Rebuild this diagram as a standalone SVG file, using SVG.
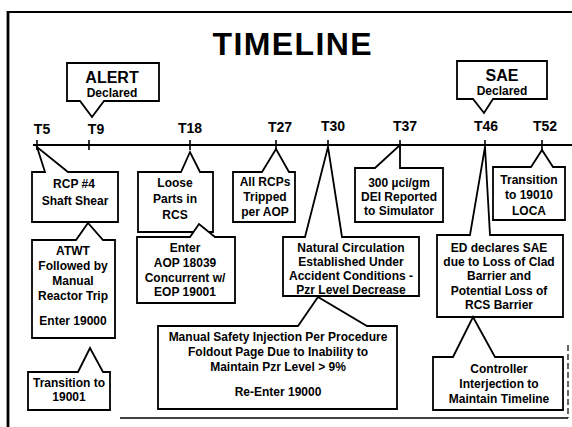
<svg xmlns="http://www.w3.org/2000/svg" width="572" height="427" viewBox="0 0 572 427">
<style>
.frame{stroke:#000;fill:none}
.co{fill:#fff;stroke:#000;stroke-width:1.8;stroke-linejoin:miter}
.t{font-family:"Liberation Sans",Arial,sans-serif;font-weight:bold;font-size:12px;fill:#000;text-anchor:middle}
.tl{font-family:"Liberation Sans",Arial,sans-serif;font-weight:bold;font-size:14px;fill:#000;text-anchor:middle}
.big{font-family:"Liberation Sans",Arial,sans-serif;font-weight:bold;font-size:16px;fill:#000;text-anchor:middle}
.axis{stroke:#000;stroke-width:2;fill:none}
.tick{stroke:#000;stroke-width:1.6}
</style>
<rect width="572" height="427" fill="#fff"/>
<g id="frame">
<line class="frame" x1="8" y1="11" x2="8" y2="427" stroke-width="2.8"/>
<line class="frame" x1="7" y1="12" x2="572" y2="12" stroke-width="2.2"/>
<line class="frame" x1="120" y1="418" x2="568" y2="418" stroke="#444" stroke-width="1.5"/>
<line class="frame" x1="568" y1="345" x2="568" y2="418" stroke="#666" stroke-width="1.2" stroke-dasharray="6 3"/>
</g>
<text x="292" y="55" font-family="'Liberation Sans',Arial,sans-serif" font-weight="bold" font-size="32" text-anchor="middle" textLength="159" lengthAdjust="spacing">TIMELINE</text>
<g id="timeline">
<line class="axis" x1="33" y1="145" x2="572" y2="145"/>
<line class="tick" x1="37" y1="140" x2="37" y2="150"/>
<line class="tick" x1="89" y1="140" x2="89" y2="150"/>
<line class="tick" x1="190" y1="140" x2="190" y2="150"/>
<line class="tick" x1="276" y1="140" x2="276" y2="150"/>
<line class="tick" x1="328" y1="140" x2="328" y2="150"/>
<line class="tick" x1="400" y1="140" x2="400" y2="150"/>
<line class="tick" x1="485" y1="140" x2="485" y2="150"/>
<line class="tick" x1="542" y1="140" x2="542" y2="150"/>
<text class="tl" x="42" y="134">T5</text>
<text class="tl" x="96" y="134">T9</text>
<text class="tl" x="190" y="133">T18</text>
<text class="tl" x="280" y="132">T27</text>
<text class="tl" x="333" y="131">T30</text>
<text class="tl" x="405" y="131">T37</text>
<text class="tl" x="486" y="131">T46</text>
<text class="tl" x="545" y="131">T52</text>
</g>
<g id="connectors"></g>
<g id="alert">
<path class="co" d="M67,63 H159 V101 H104 L92,117 L80,101 H67 Z"/>
<text class="big" x="112" y="83">ALERT</text>
<text class="t" x="112" y="97">Declared</text>
</g>
<g id="sae">
<path class="co" d="M457,61 H547 V99 H493 L484,113 L473,99 H457 Z"/>
<text class="big" x="502" y="81">SAE</text>
<text class="t" x="502" y="95">Declared</text>
</g>
<g id="rcp4">
<path class="co" d="M32,172 H45 L37,147 L68,172 H118 V222 H32 Z"/>
<text class="t" x="74" y="188">RCP #4</text>
<text class="t" x="75" y="205">Shaft Shear</text>
</g>
<g id="loose">
<path class="co" d="M138,172 H181 L190,152 L200,172 H213 V232 H138 Z"/>
<text class="t" x="175" y="187">Loose</text>
<text class="t" x="175" y="203">Parts in</text>
<text class="t" x="175" y="219">RCS</text>
</g>
<g id="allrcps">
<path class="co" d="M233,172 H262 L276,149 L289,172 H295 V222 H233 Z"/>
<text class="t" x="265" y="186">All RCPs</text>
<text class="t" x="265" y="201">Tripped</text>
<text class="t" x="265" y="216">per AOP</text>
</g>
<g id="dei">
<path class="co" d="M355,168 H375 L400,145 V168 H443 V222 H355 Z"/>
<text class="t" x="399" y="187">300 µci/gm</text>
<text class="t" x="399" y="201">DEI Reported</text>
<text class="t" x="399" y="215">to Simulator</text>
</g>
<g id="loca">
<path class="co" d="M493,167 H531 L542,150 L553,167 H565 V220 H493 Z"/>
<text class="t" x="529" y="184">Transition</text>
<text class="t" x="529" y="199">to 19010</text>
<text class="t" x="529" y="215">LOCA</text>
</g>
<g id="natcirc">
<path class="co" d="M283,237 H305 L328,147 L342,237 H419 V296 H283 Z"/>
<text class="t" x="351" y="252">Natural Circulation</text>
<text class="t" x="351" y="266">Established Under</text>
<text class="t" x="351" y="280">Accident Conditions -</text>
<text class="t" x="351" y="294">Pzr Level Decrease</text>
</g>
<g id="edsae">
<path class="co" d="M437,235 H470 L485,147 L490,235 H563 V317 H437 Z"/>
<text class="t" x="499" y="252">ED declares SAE</text>
<text class="t" x="499" y="266">due to Loss of Clad</text>
<text class="t" x="499" y="280">Barrier and</text>
<text class="t" x="499" y="295">Potential Loss of</text>
<text class="t" x="499" y="309">RCS Barrier</text>
</g>
<g id="atwt">
<path class="co" d="M32,240 H76 L88,223 L103,240 H115 V338 H32 Z"/>
<text class="t" x="73" y="255">ATWT</text>
<text class="t" x="73" y="270">Followed by</text>
<text class="t" x="73" y="285">Manual</text>
<text class="t" x="73" y="300">Reactor Trip</text>
<text class="t" x="73" y="325">Enter 19000</text>
</g>
<g id="aop">
<path class="co" d="M137,237 H190 L199,224 L215,237 H235 V303 H137 Z"/>
<text class="t" x="185" y="252">Enter</text>
<text class="t" x="185" y="267">AOP 18039</text>
<text class="t" x="185" y="282">Concurrent w/</text>
<text class="t" x="185" y="296">EOP 19001</text>
</g>
<g id="trans19001">
<path class="co" d="M28,372 H78 L90,348 L103,372 H110 V410 H28 Z"/>
<text class="t" x="69" y="387">Transition to</text>
<text class="t" x="69" y="401">19001</text>
</g>
<g id="msi">
<path class="co" d="M158,326 H298 L318,297 L367,326 H397 V409 H158 Z"/>
<text class="t" x="278" y="341">Manual Safety Injection Per Procedure</text>
<text class="t" x="278" y="356">Foldout Page Due to Inability to</text>
<text class="t" x="278" y="371">Maintain Pzr Level &gt; 9%</text>
<text class="t" x="278" y="396">Re-Enter 19000</text>
</g>
<g id="controller">
<path class="co" d="M433,357 H453 L473,317 L495,357 H563 V410 H433 Z"/>
<text class="t" x="499" y="373">Controller</text>
<text class="t" x="499" y="388">Interjection to</text>
<text class="t" x="499" y="403">Maintain Timeline</text>
</g>
</svg>
